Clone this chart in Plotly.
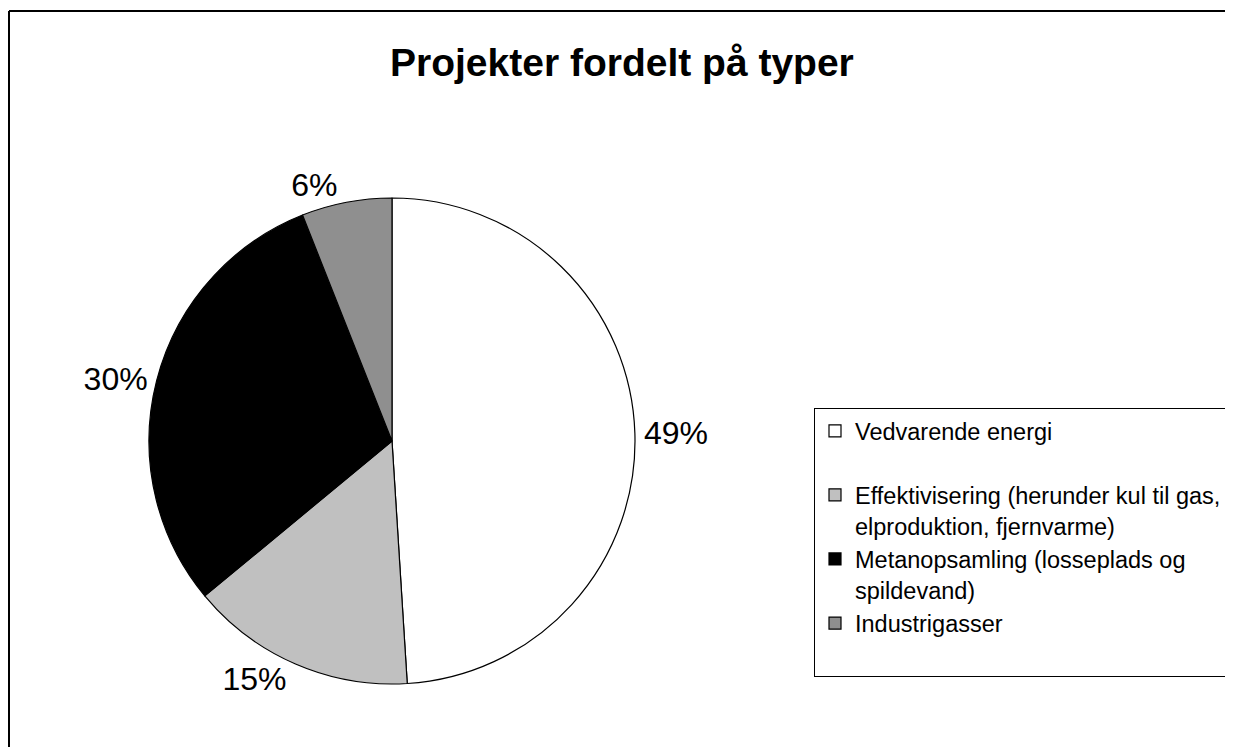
import plotly.graph_objects as go

labels = ["Vedvarende energi<br> ",
          "Effektivisering (herunder kul til gas,<br>elproduktion, fjernvarme)",
          "Metanopsamling (losseplads og<br>spildevand)",
          "Industrigasser<br> "]
values = [49, 15, 30, 6]
colors = ["#ffffff", "#c0c0c0", "#000000", "#ffffff"]
patterns = ["", "", "", "."]
title_text = "Projekter fordelt på typer"

# page has an 8px body margin
OFF = 8
W, H = 1233 - OFF, 747 - OFF


def px(X):
    return (X - OFF) / W


def py(Y):
    return 1 - (Y - OFF) / H


cx, cy, r = 392, 441, 243
FONT = "Liberation Sans, Arial, sans-serif"

fig = go.Figure()
fig.add_trace(go.Pie(
    labels=labels,
    values=values,
    sort=False,
    direction="clockwise",
    rotation=0,
    textposition="outside",
    texttemplate="%{percent:.0%}",
    textfont=dict(family=FONT, size=32, color="#000000"),
    marker=dict(colors=colors,
                line=dict(color="#000000", width=1.2),
                pattern=dict(shape=patterns, fgcolor="#000000", bgcolor="#ffffff",
                             size=2, solidity=0.5)),
    domain=dict(x=[px(cx - r), px(cx + r)],
                y=[py(cy + r), py(cy - r)]),
    showlegend=True,
    hoverinfo="label+percent",
))

fig.update_layout(
    width=W, height=H,
    margin=dict(l=0, r=0, t=0, b=0, autoexpand=False),
    paper_bgcolor="#ffffff",
    plot_bgcolor="#ffffff",
    font=dict(family=FONT, color="#000000"),
    legend=dict(
        x=px(814), xanchor="left",
        y=py(408), yanchor="top",
        bgcolor="#ffffff",
        bordercolor="#000000", borderwidth=1,
        font=dict(family=FONT, size=23.5, color="#000000"),
        valign="top",
        traceorder="normal",
    ),
    annotations=[dict(
        text="<b>" + title_text + "</b>",
        x=px(622), y=py(62), xref="paper", yref="paper",
        xanchor="center", yanchor="middle", showarrow=False,
        font=dict(family=FONT, size=39, color="#000000"),
    )],
    shapes=[
        dict(type="line", xref="paper", yref="paper",
             x0=px(9), x1=1.0, y0=py(11), y1=py(11),
             line=dict(color="#000000", width=2), layer="below"),
        dict(type="line", xref="paper", yref="paper",
             x0=px(9), x1=px(9), y0=0.0, y1=py(11),
             line=dict(color="#000000", width=2), layer="below"),
    ],
)

fig.write_html("out.html",
               post_script="document.documentElement.style.overflow='hidden';"
                           "document.body.style.overflow='hidden';")
